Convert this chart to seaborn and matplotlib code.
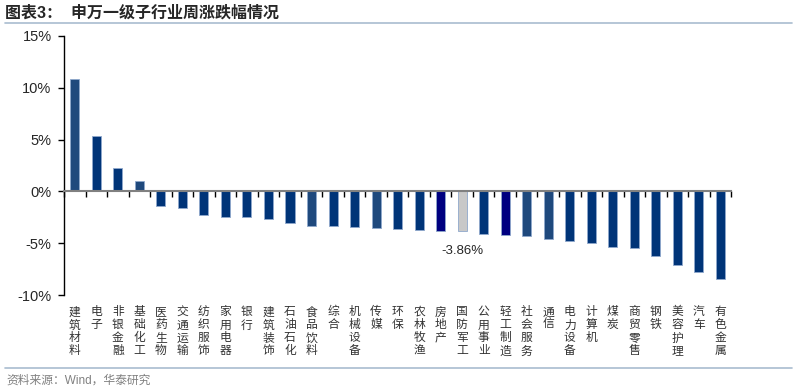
import numpy as np
import pandas as pd
import matplotlib
matplotlib.use("Agg")
import matplotlib.pyplot as plt
import seaborn as sns
from matplotlib.lines import Line2D

categories = ["建筑材料", "电子", "非银金融", "基础化工", "医药生物", "交通运输", "纺织服饰",
              "家用电器", "银行", "建筑装饰", "石油石化", "食品饮料", "综合", "机械设备",
              "传媒", "环保", "农林牧渔", "房地产", "国防军工", "公用事业", "轻工制造",
              "社会服务", "通信", "电力设备", "计算机", "煤炭", "商贸零售", "钢铁",
              "美容护理", "汽车", "有色金属"]
values = [10.88, 5.38, 2.23, 0.98, -1.45, -1.62, -2.28, -2.44, -2.48, -2.67, -3.02,
          -3.33, -3.37, -3.40, -3.50, -3.60, -3.75, -3.84, -3.86, -4.15, -4.18,
          -4.27, -4.57, -4.77, -4.97, -5.33, -5.43, -6.25, -7.08, -7.75, -8.45]
color_group = ["light", "dark", "dark", "light", "dark", "dark", "dark", "dark", "dark",
               "dark", "dark", "light", "dark", "dark", "light", "dark", "dark", "navy",
               "gray", "dark", "navy", "light", "light", "dark", "dark", "dark", "dark",
               "dark", "dark", "dark", "dark"]
highlight = "国防军工"
yticks = [-10, -5, 0, 5, 10, 15]
ytick_labels = ["-10%", "-5%", "0%", "5%", "10%", "15%"]
title = "图表3：  申万一级子行业周涨跌幅情况"
source = "资料来源：Wind，华泰研究"

group_colors = {"dark": "#003478", "light": "#1F497D", "navy": "#000080", "gray": "#C8C8C8"}

sns.set_style("white")
plt.rcParams["font.family"] = ["Liberation Sans", "Noto Sans CJK SC"]
cjk = ["Noto Sans CJK SC", "DejaVu Sans"]

df = pd.DataFrame({"cat": categories, "val": values})
palette = {c: group_colors[g] for c, g in zip(categories, color_group)}

fig = plt.figure(figsize=(8, 3.92), dpi=100)
ax = fig.add_axes([0.08, 0.2474, 0.834, 0.6608])
sns.barplot(data=df, x="cat", y="val", hue="cat", palette=palette, legend=False,
            width=0.42, ax=ax, saturation=1, edgecolor="#8FA8CC", linewidth=0.6)

n = len(categories)
ax.set_xlim(-0.5, n - 0.5)
ax.set_ylim(-10, 15)
ax.set_yticks(yticks)
ax.set_yticklabels(ytick_labels, fontsize=10.5)
ax.set_xticks(np.arange(n + 1) - 0.5)
ax.set_xticklabels([])
ax.set_xlabel("")
ax.set_ylabel("")
ax.spines["top"].set_visible(False)
ax.spines["right"].set_visible(False)
ax.spines["left"].set_color("black")
ax.spines["left"].set_linewidth(1.0)
ax.spines["bottom"].set_position(("data", 0))
ax.spines["bottom"].set_color("#808080")
ax.spines["bottom"].set_linewidth(1.5)
ax.tick_params(axis="y", direction="out", length=4, width=1, color="black", pad=5, left=True)
ax.tick_params(axis="x", direction="out", length=4, width=1, color="black", bottom=True)

for i, c in enumerate(categories):
    ax.annotate("\n".join(c), xy=(i, 0), xycoords=("data", "axes fraction"),
                xytext=(0, -7.5), textcoords="offset points", ha="center", va="top",
                fontsize=8.5, family=cjk, linespacing=1.0, color="#333333")

hi = categories.index(highlight)
ax.annotate(f"{values[hi]:.2f}%", xy=(hi, values[hi]), xytext=(0, -14),
            textcoords="offset points", ha="center", va="center", fontsize=9.5)

fig.text(0.006, 1 - 13 / 392, title, fontsize=11.5, fontweight="bold",
         family=["Liberation Sans", "Noto Sans CJK SC"], va="center", ha="left")
fig.add_artist(Line2D([0.006, 0.99], [1 - 23 / 392] * 2, color="#A9BCD0", lw=1.2))
fig.add_artist(Line2D([0.006, 0.99], [1 - 368 / 392] * 2, color="#A9BCD0", lw=1.2))
fig.text(0.008, 1 - 381 / 392, source, fontsize=8.5, color="#808080",
         family=["Liberation Sans", "Noto Sans CJK SC"], va="center", ha="left")

fig.savefig("out.png", dpi=100)
